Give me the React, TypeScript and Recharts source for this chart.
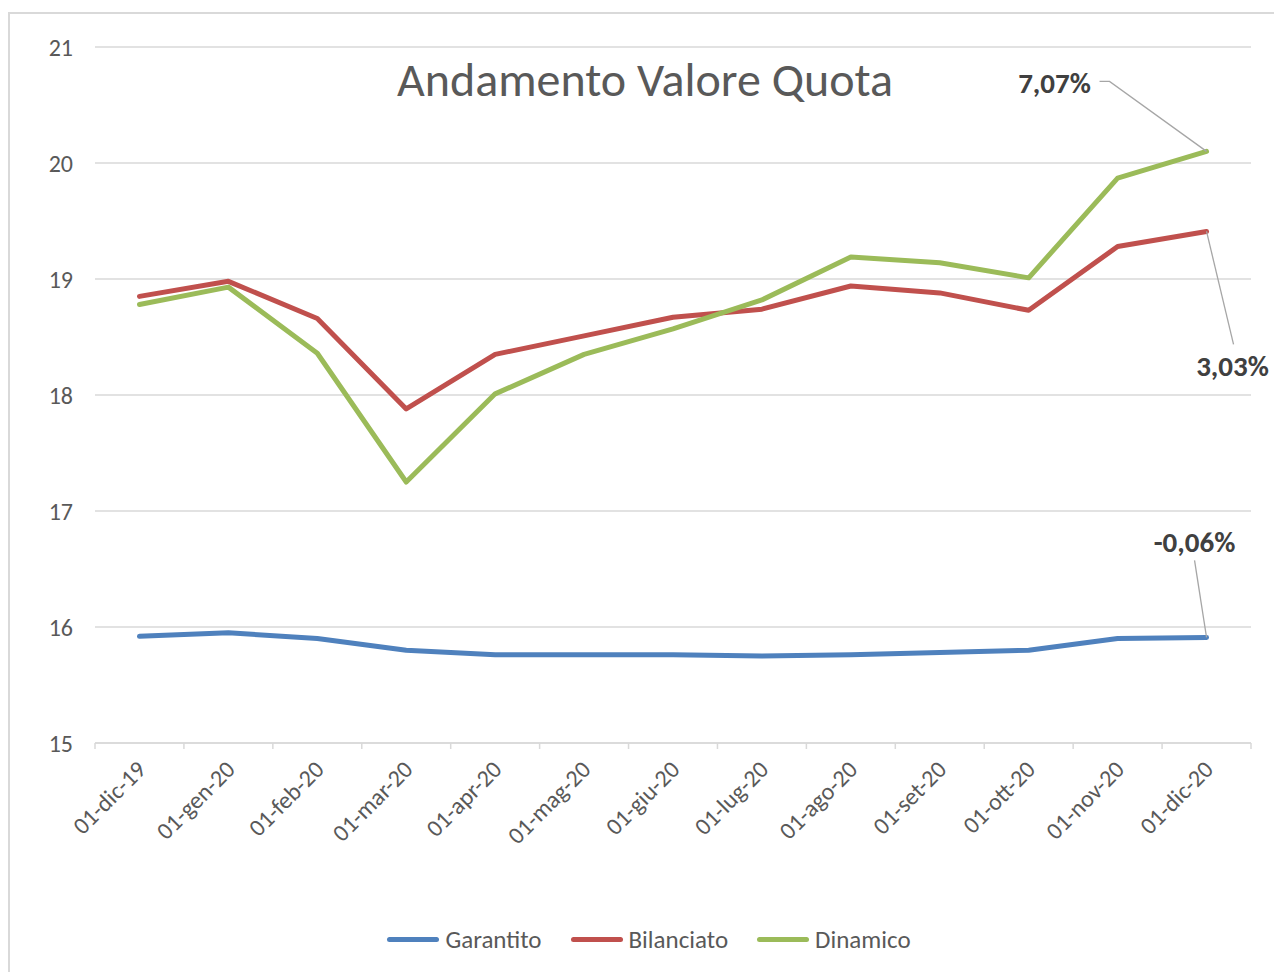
import React from "react";
import { ComposedChart, Line, XAxis, YAxis, CartesianGrid, LabelList } from "recharts";

const months = [
  "01-dic-19", "01-gen-20", "01-feb-20", "01-mar-20", "01-apr-20", "01-mag-20", "01-giu-20",
  "01-lug-20", "01-ago-20", "01-set-20", "01-ott-20", "01-nov-20", "01-dic-20",
];
const garantito = [15.92, 15.95, 15.9, 15.8, 15.76, 15.76, 15.76, 15.75, 15.76, 15.78, 15.8, 15.9, 15.91];
const bilanciato = [18.85, 18.98, 18.66, 17.88, 18.35, 18.51, 18.67, 18.74, 18.94, 18.88, 18.73, 19.28, 19.41];
const dinamico = [18.78, 18.93, 18.36, 17.25, 18.01, 18.35, 18.57, 18.82, 19.19, 19.14, 19.01, 19.87, 20.1];
const yTicks = [15, 16, 17, 18, 19, 20, 21];
const seriesNames = ["Garantito", "Bilanciato", "Dinamico"];
const endLabels = ["-0,06%", "3,03%", "7,07%"];

const COLORS = ["#4F81BD", "#C0504D", "#9BBB59"];
const FONT = "Calibri, Carlito, 'Open Sans', sans-serif";

// where each end label sits relative to its last point
const LABEL_LAYOUT: Record<string, { tx: number; ty: number; leader: number[][] }> = {
  Garantito: { tx: -12, ty: -95, leader: [[-12, -77], [0, 0]] },
  Bilanciato: { tx: 26, ty: 135, leader: [[27, 113], [0, 0]] },
  Dinamico: { tx: -152, ty: -68, leader: [[-107, -70], [-97, -70], [0, 0]] },
};

const data = months.map((m, i) => ({
  month: m,
  Garantito: garantito[i],
  Bilanciato: bilanciato[i],
  Dinamico: dinamico[i],
}));

// label rotated -45, plus Excel-style tick marks between the categories
const MonthTick = ({ x, y, payload, index }: any) => {
  const ax = x + 8;
  const ay = y + 28;
  const half = payload.offset || 0;
  const isLast = index === months.length - 1;
  return (
    <g>
      <line x1={x - half} x2={x - half} y1={y} y2={y + 6} stroke="#d9d9d9" strokeWidth={1.5} />
      {isLast && <line x1={x + half} x2={x + half} y1={y} y2={y + 6} stroke="#d9d9d9" strokeWidth={1.5} />}
      <text
        x={ax}
        y={ay}
        textAnchor="end"
        transform={`rotate(-45 ${ax} ${ay})`}
        fill="#595959"
        fontSize={24}
        fontFamily={FONT}
      >
        {payload.value}
      </text>
    </g>
  );
};

const makeEndLabel = (name: string, text: string) => (props: any) => {
  const { x, y, index } = props;
  if (index !== months.length - 1) return null;
  const lay = LABEL_LAYOUT[name];
  const pts = lay.leader.map(([dx, dy]) => `${x + dx},${y + dy}`).join(" ");
  return (
    <g>
      <polyline points={pts} fill="none" stroke="#a6a6a6" strokeWidth={1.3} />
      <text
        x={x + lay.tx}
        y={y + lay.ty}
        textAnchor="middle"
        dominantBaseline="central"
        fontWeight="bold"
        fontSize={29}
        fontFamily={FONT}
        fill="#404040"
      >
        {text}
      </text>
    </g>
  );
};

export default function App() {
  return (
    <div style={{ position: "fixed", left: 0, top: 0, width: 1274, height: 972, overflow: "hidden", background: "#fff" }}>
      <div
        style={{
          position: "absolute",
          left: 8,
          top: 12,
          width: 1320,
          height: 1020,
          border: "2px solid #d9d9d9",
        }}
      />
      <div style={{ position: "absolute", left: 0, top: 0 }}>
        <ComposedChart width={1274} height={972} data={data} margin={{ top: 47, right: 23, left: 20, bottom: 109 }}>
          <CartesianGrid vertical={false} stroke="#d9d9d9" strokeWidth={1.5} />
          <XAxis
            dataKey="month"
            type="category"
            scale="band"
            axisLine={{ stroke: "#d9d9d9", strokeWidth: 1.5 }}
            tickLine={false}
            tickSize={0}
            tickMargin={0}
            interval={0}
            height={120}
            tick={<MonthTick />}
          />
          <YAxis
            domain={[15, 21]}
            ticks={yTicks}
            axisLine={false}
            tickLine={false}
            tickSize={0}
            tickMargin={22}
            width={75}
            tick={{ fill: "#595959", fontSize: 24, fontFamily: FONT }}
          />
          {seriesNames.map((name, i) => (
            <Line
              key={name}
              type="linear"
              dataKey={name}
              stroke={COLORS[i]}
              strokeWidth={5}
              strokeLinejoin="round"
              strokeLinecap="round"
              dot={false}
              activeDot={false}
              isAnimationActive={false}
            >
              <LabelList dataKey={name} content={makeEndLabel(name, endLabels[i])} />
            </Line>
          ))}
        </ComposedChart>
      </div>
      <div
        style={{
          position: "absolute",
          left: 8,
          top: 50,
          width: 1274,
          textAlign: "center",
          fontFamily: FONT,
          fontSize: 48,
          color: "#595959",
        }}
      >
        Andamento Valore Quota
      </div>
      <div
        style={{
          position: "absolute",
          left: 12,
          top: 924,
          width: 1274,
          display: "flex",
          justifyContent: "center",
          gap: 29,
          fontFamily: FONT,
          fontSize: 25,
          color: "#595959",
        }}
      >
        {seriesNames.map((name, i) => (
          <div key={name} style={{ display: "flex", alignItems: "center", gap: 6 }}>
            <div style={{ width: 52, height: 5, borderRadius: 3, background: COLORS[i] }} />
            <span>{name}</span>
          </div>
        ))}
      </div>
    </div>
  );
}
